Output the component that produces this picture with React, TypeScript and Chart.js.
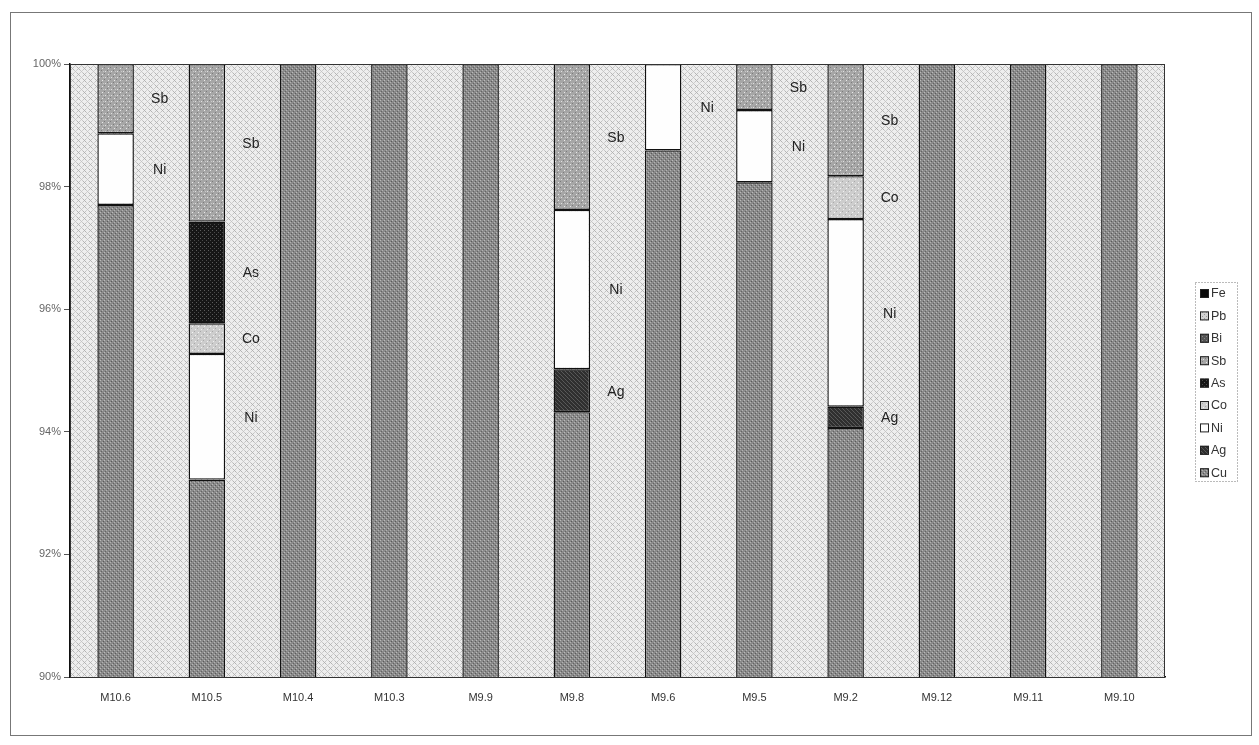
import React, { useEffect, useRef } from 'react';
import { Chart, registerables } from 'chart.js';
Chart.register(...registerables);

const categories = ['M10.6', 'M10.5', 'M10.4', 'M10.3', 'M9.9', 'M9.8', 'M9.6', 'M9.5', 'M9.2', 'M9.12', 'M9.11', 'M9.10'];
const cuValues = [97.70, 93.22, 100, 100, 100, 94.32, 98.59, 98.07, 94.06, 100, 100, 100];
const agValues = [null, null, null, null, null, 0.70, null, null, 0.35, null, null, null];
const niValues = [1.17, 2.05, null, null, null, 2.60, 1.41, 1.18, 3.06, null, null, null];
const coValues = [null, 0.50, null, null, null, null, null, null, 0.70, null, null, null];
const asValues = [null, 1.66, null, null, null, null, null, null, null, null, null, null];
const sbValues = [1.13, 2.57, null, null, null, 2.38, null, 0.75, 1.83, null, null, null];
const biValues = [null, null, null, null, null, null, null, null, null, null, null, null];
const pbValues = [null, null, null, null, null, null, null, null, null, null, null, null];
const feValues = [null, null, null, null, null, null, null, null, null, null, null, null];
const yTickValues = [90, 92, 94, 96, 98, 100];
const legendOrder = ['Fe', 'Pb', 'Bi', 'Sb', 'As', 'Co', 'Ni', 'Ag', 'Cu'];

const FONT = '"Liberation Sans", Arial, sans-serif';

function makePattern(size: number, base: string, dots: Array<[number, number, string]>): CanvasPattern | string {
  const c = document.createElement('canvas');
  c.width = size;
  c.height = size;
  const g = c.getContext('2d');
  if (!g) return base;
  g.fillStyle = base;
  g.fillRect(0, 0, size, size);
  dots.forEach(([x, y, col]) => {
    g.fillStyle = col;
    g.fillRect(x, y, 1, 1);
  });
  const ctx = document.createElement('canvas').getContext('2d');
  const p = ctx ? ctx.createPattern(c, 'repeat') : null;
  return p || base;
}

function buildPatterns() {
  const bgDots: Array<[number, number, string]> = [
    [0, 0, '#b4b4b4'], [2, 0, '#c2c2c2'], [1, 1, '#b0b0b0'], [0, 2, '#c2c2c2'], [2, 2, '#b4b4b4'],
    [3, 3, '#c8c8c8'], [5, 3, '#d0d0d0'], [4, 4, '#c4c4c4'], [3, 5, '#d0d0d0'], [5, 5, '#c8c8c8'],
  ];
  return {
    bg: makePattern(6, '#eeeeee', bgDots),
    cu: makePattern(4, '#8a8a8a', [[0, 0, '#5a5a5a'], [2, 2, '#646464'], [1, 3, '#bababa'], [3, 1, '#b2b2b2']]),
    sb: makePattern(6, '#a6a6a6', [[1, 1, '#e8e8e8'], [4, 4, '#e0e0e0'], [3, 0, '#7c7c7c'], [0, 3, '#7c7c7c'], [2, 4, '#c8c8c8']]),
    co: makePattern(6, '#cdcdcd', [[1, 1, '#f4f4f4'], [4, 4, '#f0f0f0'], [3, 0, '#a8a8a8'], [0, 3, '#aaaaaa']]),
    as: makePattern(4, '#161616', [[1, 1, '#5c5c5c'], [3, 3, '#4a4a4a']]),
    ag: makePattern(4, '#2f2f2f', [[0, 0, '#5a5a5a'], [1, 1, '#555555'], [2, 2, '#5a5a5a'], [3, 3, '#555555']]),
    ni: '#fefefe',
    bi: makePattern(4, '#555555', [[1, 1, '#888888'], [3, 3, '#888888']]),
    pb: makePattern(4, '#d2d2d2', [[1, 1, '#999999'], [3, 3, '#999999']]),
    fe: '#0a0a0a',
  };
}

export default function App() {
  const ref = useRef<HTMLCanvasElement | null>(null);

  useEffect(() => {
    if (!ref.current) return;
    const P = buildPatterns();
    const common = {
      borderColor: '#111111',
      borderWidth: 1.4,
      borderSkipped: false,
      barPercentage: 0.4,
      categoryPercentage: 1.0,
      clip: { left: 2, right: 2, top: 2, bottom: 0 },
    };
    const datasets: any[] = [
      { label: 'Cu', data: cuValues, backgroundColor: P.cu, ...common },
      { label: 'Ag', data: agValues, backgroundColor: P.ag, ...common },
      { label: 'Ni', data: niValues, backgroundColor: P.ni, ...common },
      { label: 'Co', data: coValues, backgroundColor: P.co, ...common },
      { label: 'As', data: asValues, backgroundColor: P.as, ...common },
      { label: 'Sb', data: sbValues, backgroundColor: P.sb, ...common },
      { label: 'Bi', data: biValues, backgroundColor: P.bi, ...common },
      { label: 'Pb', data: pbValues, backgroundColor: P.pb, ...common },
      { label: 'Fe', data: feValues, backgroundColor: P.fe, ...common },
    ];

    const bgPlugin = {
      id: 'plotBg',
      beforeDatasetsDraw(chart: any) {
        const { ctx, chartArea: a } = chart;
        ctx.save();
        ctx.fillStyle = P.bg;
        ctx.fillRect(a.left, a.top, a.right - a.left, a.bottom - a.top);
        ctx.restore();
      },
      afterDatasetsDraw(chart: any) {
        const { ctx, chartArea: a } = chart;
        ctx.save();
        ctx.strokeStyle = '#333';
        ctx.lineWidth = 1;
        ctx.strokeRect(a.left + 0.5, a.top + 0.5, a.right - a.left - 1, a.bottom - a.top);
        ctx.font = `14px ${FONT}`;
        ctx.fillStyle = '#222';
        ctx.textAlign = 'center';
        ctx.textBaseline = 'middle';
        chart.data.datasets.forEach((ds: any, di: number) => {
          if (di === 0) return;
          const meta = chart.getDatasetMeta(di);
          ds.data.forEach((v: any, j: number) => {
            if (v == null) return;
            const el: any = meta.data[j];
            if (!el) return;
            const p = el.getProps(['x', 'y', 'base'], true);
            ctx.fillText(ds.label, p.x + 44, (p.y + p.base) / 2 + 1);
          });
        });
        ctx.restore();
      },
      afterDraw(chart: any) {
        const { ctx } = chart;
        ctx.save();
        const left = 1184, top = 269, w = 42, h = 199;
        ctx.setLineDash([1, 2]);
        ctx.strokeStyle = '#777';
        ctx.lineWidth = 1;
        ctx.strokeRect(left + 0.5, top + 0.5, w, h);
        ctx.setLineDash([]);
        ctx.font = `12.5px ${FONT}`;
        ctx.textAlign = 'left';
        ctx.textBaseline = 'middle';
        legendOrder.forEach((name, i) => {
          const ds = chart.data.datasets.find((d: any) => d.label === name);
          const cy = top + 11 + i * 22.4;
          ctx.fillStyle = ds.backgroundColor;
          ctx.fillRect(left + 5, cy - 4, 9, 9);
          ctx.strokeStyle = '#222';
          ctx.strokeRect(left + 5.5, cy - 3.5, 8, 8);
          ctx.fillStyle = '#333';
          ctx.fillText(name, left + 16, cy + 1);
        });
        ctx.restore();
      },
    };

    const chart = new Chart(ref.current, {
      type: 'bar',
      data: { labels: categories, datasets },
      options: {
        responsive: false,
        animation: false,
        layout: { padding: { left: 0, top: 51, right: 86, bottom: 0 } },
        plugins: { legend: { display: false }, tooltip: { enabled: false } },
        scales: {
          x: {
            stacked: true,
            grid: { display: false, drawTicks: false },
            border: { display: true, color: '#111', width: 1.5 },
            ticks: { color: '#333', font: { family: FONT, size: 11 }, padding: 14, maxRotation: 0 },
            afterFit: (s: any) => { s.height = 58; },
          },
          y: {
            stacked: true,
            min: 90,
            max: 100,
            grid: { display: true, drawOnChartArea: false, drawTicks: true, tickLength: 6, color: '#555' },
            border: { display: true, color: '#111', width: 1.5 },
            ticks: {
              color: '#666',
              font: { family: FONT, size: 11 },
              padding: 3,
              callback: (v: any) => `${v}%`,
            },
            afterBuildTicks: (s: any) => { s.ticks = yTickValues.map((v) => ({ value: v })); },
            afterFit: (s: any) => { s.width = 59; },
          },
        },
      } as any,
      plugins: [bgPlugin],
    });
    return () => chart.destroy();
  }, []);

  return (
    <div style={{ position: 'absolute', left: 10, top: 12, width: 1240, height: 722, border: '1px solid #777', background: '#fff' }}>
      <canvas ref={ref} width={1240} height={722} style={{ display: 'block' }} />
    </div>
  );
}
